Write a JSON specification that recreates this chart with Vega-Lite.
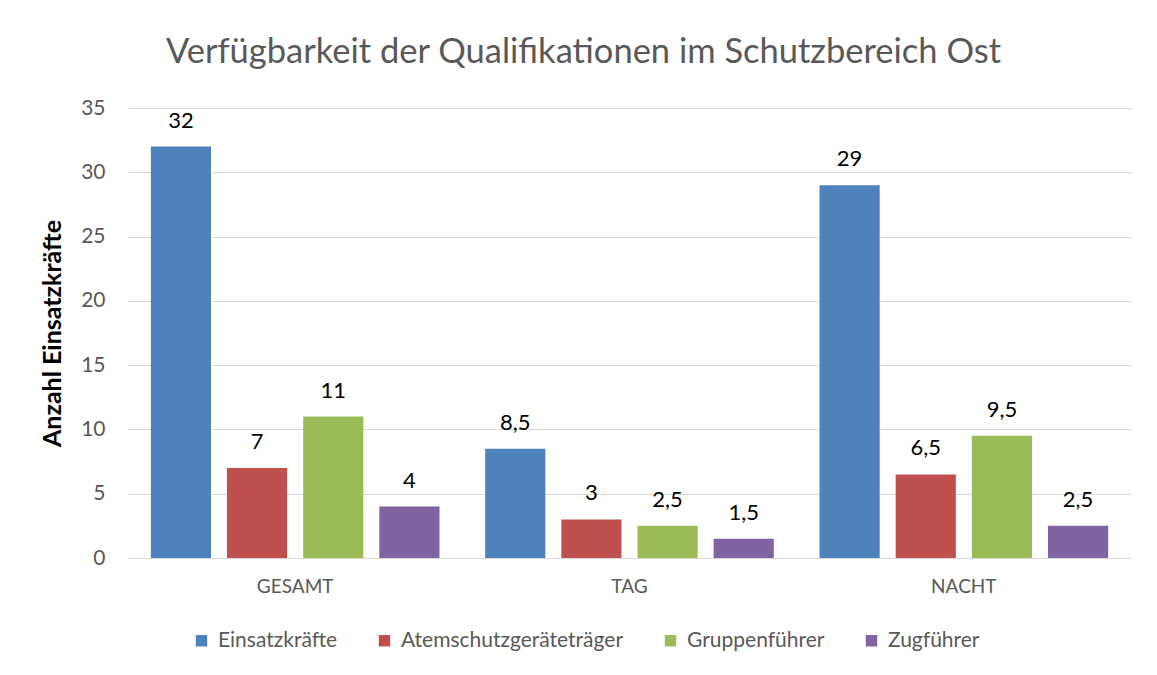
{
  "$schema": "https://vega.github.io/schema/vega-lite/v6.json",
  "width": 1003,
  "height": 450,
  "autosize": {"type": "none"},
  "padding": {"left": 128, "top": 108, "right": 26, "bottom": 117},
  "background": "white",
  "config": {
    "font": "Lato",
    "view": {"stroke": null},
    "locale": {"number": {"decimal": ",", "thousands": ".", "grouping": [3], "currency": ["", " €"]}}
  },
  "title": {
    "text": "Verfügbarkeit der Qualifikationen im Schutzbereich Ost",
    "font": "Lato",
    "fontSize": 34.5,
    "fontWeight": "normal",
    "color": "#595959",
    "anchor": "middle",
    "dx": -46,
    "offset": 27
  },
  "data": {
    "values": [
      {"gruppe": "GESAMT", "qual": "Einsatzkräfte", "wert": 32},
      {"gruppe": "GESAMT", "qual": "Atemschutzgeräteträger", "wert": 7},
      {"gruppe": "GESAMT", "qual": "Gruppenführer", "wert": 11},
      {"gruppe": "GESAMT", "qual": "Zugführer", "wert": 4},
      {"gruppe": "TAG", "qual": "Einsatzkräfte", "wert": 8.5},
      {"gruppe": "TAG", "qual": "Atemschutzgeräteträger", "wert": 3},
      {"gruppe": "TAG", "qual": "Gruppenführer", "wert": 2.5},
      {"gruppe": "TAG", "qual": "Zugführer", "wert": 1.5},
      {"gruppe": "NACHT", "qual": "Einsatzkräfte", "wert": 29},
      {"gruppe": "NACHT", "qual": "Atemschutzgeräteträger", "wert": 6.5},
      {"gruppe": "NACHT", "qual": "Gruppenführer", "wert": 9.5},
      {"gruppe": "NACHT", "qual": "Zugführer", "wert": 2.5}
    ]
  },
  "encoding": {
    "x": {
      "field": "gruppe",
      "type": "nominal",
      "sort": ["GESAMT", "TAG", "NACHT"],
      "scale": {"paddingInner": 0, "paddingOuter": 0},
      "axis": {
        "title": null,
        "labelAngle": 0,
        "labelFontSize": 19,
        "labelColor": "#595959",
        "labelPadding": 19,
        "ticks": false,
        "domainColor": "#d9d9d9",
        "domainWidth": 1
      }
    },
    "xOffset": {
      "field": "qual",
      "type": "nominal",
      "sort": ["Einsatzkräfte", "Atemschutzgeräteträger", "Gruppenführer", "Zugführer"],
      "scale": {"paddingInner": 0.21, "paddingOuter": 0.3}
    },
    "y": {
      "field": "wert",
      "type": "quantitative",
      "scale": {"domain": [0, 35], "nice": false},
      "axis": {
        "values": [0, 5, 10, 15, 20, 25, 30, 35],
        "title": "Anzahl Einsatzkräfte",
        "titleFontSize": 25,
        "titleFontWeight": "bold",
        "titleColor": "#000000",
        "titlePadding": 15,
        "labelFontSize": 21,
        "labelColor": "#595959",
        "labelPadding": 23,
        "ticks": false,
        "domain": false,
        "gridColor": "#d9d9d9",
        "gridWidth": 1
      }
    },
    "color": {
      "field": "qual",
      "type": "nominal",
      "sort": ["Einsatzkräfte", "Atemschutzgeräteträger", "Gruppenführer", "Zugführer"],
      "scale": {
        "domain": ["Einsatzkräfte", "Atemschutzgeräteträger", "Gruppenführer", "Zugführer"],
        "range": ["#4F81BD", "#C0504D", "#9BBB59", "#8064A2"]
      },
      "legend": {
        "title": null,
        "orient": "none",
        "direction": "horizontal",
        "legendX": 63,
        "legendY": 522,
        "symbolType": "square",
        "symbolSize": 130,
        "symbolStrokeWidth": 0,
        "symbolOpacity": 1,
        "labelFontSize": 21,
        "labelColor": "#595959",
        "labelOffset": 6,
        "columnPadding": 36,
        "labelLimit": 400
      }
    }
  },
  "layer": [
    {"mark": {"type": "bar", "stroke": null}},
    {
      "mark": {"type": "text", "baseline": "alphabetic", "dy": -19, "fontSize": 22, "color": "#000000"},
      "encoding": {
        "text": {"field": "wert", "type": "quantitative", "format": ".1~f"},
        "color": {"value": "#000000"}
      }
    }
  ]
}
